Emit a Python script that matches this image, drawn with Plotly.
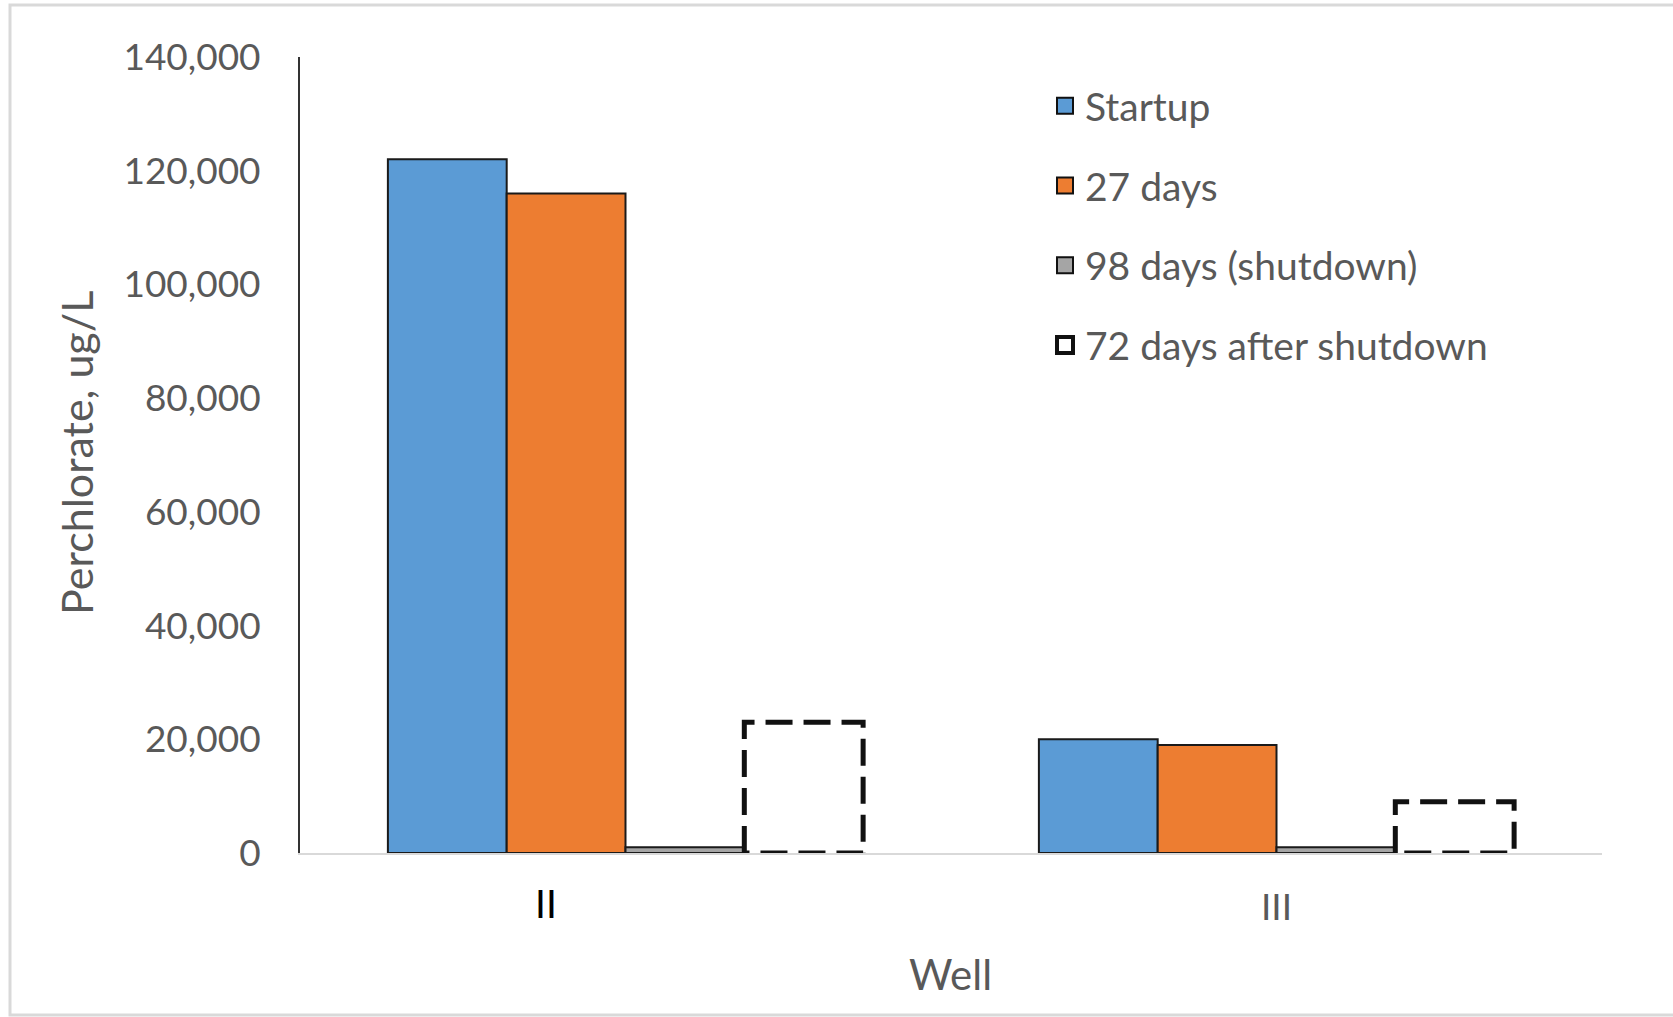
import plotly.graph_objects as go

# Perchlorate concentrations per well at each sampling event (ug/L)
wells = ["II", "III"]
series_names = ["Startup", "27 days", "98 days (shutdown)", "72 days after shutdown"]
startup = [122000, 20000]
days_27 = [116000, 19000]
days_98 = [1000, 1000]
after_72 = [23000, 9000]
y_ticks = [0, 20000, 40000, 60000, 80000, 100000, 120000, 140000]

fill_colors = ["#5B9BD5", "#ED7D31", "#A5A5A5"]
label_font = "Lato, 'Open Sans', sans-serif"
grey_text = "#595959"

W, H = 1673, 1017
L, R, T, B = 300, 71, 57, 164
plot_w, plot_h = W - L - R, H - T - B

x_pos = list(range(len(wells)))
group_w = 0.73
n_series = 4
bar_w = group_w / n_series

fig = go.Figure()

solid_series = [startup, days_27, days_98]
for k, (name, vals) in enumerate(zip(series_names[:3], solid_series)):
    fig.add_trace(go.Bar(
        x=x_pos, y=vals, name=name, showlegend=False,
        offset=-group_w / 2 + k * bar_w, width=bar_w,
        marker=dict(color=fill_colors[k], line=dict(color="#1a1a1a", width=2)),
        legendgroup=name,
    ))

# Dashed, unfilled bars for the post-shutdown samples
off3 = -group_w / 2 + 3 * bar_w
xs, ys = [], []
for xi, v in zip(x_pos, after_72):
    x0, x1 = xi + off3, xi + off3 + bar_w
    xs += [x0, x0, x1, x1, x0, None]
    ys += [0, v, v, 0, 0, None]
fig.add_trace(go.Scatter(
    x=xs, y=ys, mode="lines", showlegend=False, name=series_names[3],
    line=dict(color="#111111", width=5, dash="27px,11px"),
    legendgroup=series_names[3], hoverinfo="skip",
))

# Legend entries: square swatches matching each series' style
legend_fill = fill_colors + ["white"]
legend_line_w = [2, 2, 2, 4]
for name, fc, lw in zip(series_names, legend_fill, legend_line_w):
    fig.add_trace(go.Scatter(
        x=[None], y=[None], mode="markers", name=name, legendgroup=name,
        marker=dict(symbol="square", size=16, color=fc, line=dict(color="#111111", width=lw)),
    ))

def px_x(px):
    return (px - L) / plot_w

def px_y(py):
    return 1 - (py - T) / plot_h

annotations = [
    # category labels
    dict(x=0, xref="x", xshift=-80, y=px_y(903), yref="paper", text=wells[0],
         showarrow=False, yanchor="middle", font=dict(family=label_font, size=39, color="#000000")),
    dict(x=1, xref="x", y=px_y(906), yref="paper", text=wells[1],
         showarrow=False, yanchor="middle", font=dict(family=label_font, size=37, color=grey_text)),
    # axis titles
    dict(x=px_x(76), xref="paper", y=px_y(453), yref="paper", text="Perchlorate, ug/L",
         textangle=-90, showarrow=False, xanchor="center", yanchor="middle",
         font=dict(family=label_font, size=43, color=grey_text)),
    dict(x=px_x(950), xref="paper", y=px_y(974), yref="paper", text="Well",
         showarrow=False, xanchor="center", yanchor="middle",
         font=dict(family=label_font, size=42, color=grey_text)),
]

shapes = [
    # chart-area frame (top, left, bottom edges)
    dict(type="path", xref="paper", yref="paper",
         path=f"M {px_x(1700)} {px_y(5)} L {px_x(10)} {px_y(5)} L {px_x(10)} {px_y(1015)} L {px_x(1700)} {px_y(1015)}",
         line=dict(color="#D9D9D9", width=3)),
]

fig.update_layout(
    width=W, height=H,
    margin=dict(l=L, r=R, t=T, b=B),
    paper_bgcolor="white", plot_bgcolor="white",
    barmode="overlay",
    showlegend=True,
    legend=dict(
        x=px_x(1045), y=px_y(74), xanchor="left", yanchor="top",
        font=dict(family=label_font, size=39, color=grey_text),
        traceorder="grouped", tracegroupgap=26,
        bgcolor="rgba(0,0,0,0)",
    ),
    xaxis=dict(
        range=[-0.5, 1.5], showticklabels=False, ticks="", showgrid=False,
        zeroline=False, showline=True, linecolor="#D9D9D9", linewidth=2,
    ),
    yaxis=dict(
        range=[0, 140000], tickvals=y_ticks, tickformat=",", ticks="",
        showgrid=False, zeroline=False, showline=True, linecolor="#333333", linewidth=2,
        ticklabelstandoff=30,
        tickfont=dict(family=label_font, size=37, color=grey_text),
    ),
    annotations=annotations,
    shapes=shapes,
)

fig.write_html("out.html")
